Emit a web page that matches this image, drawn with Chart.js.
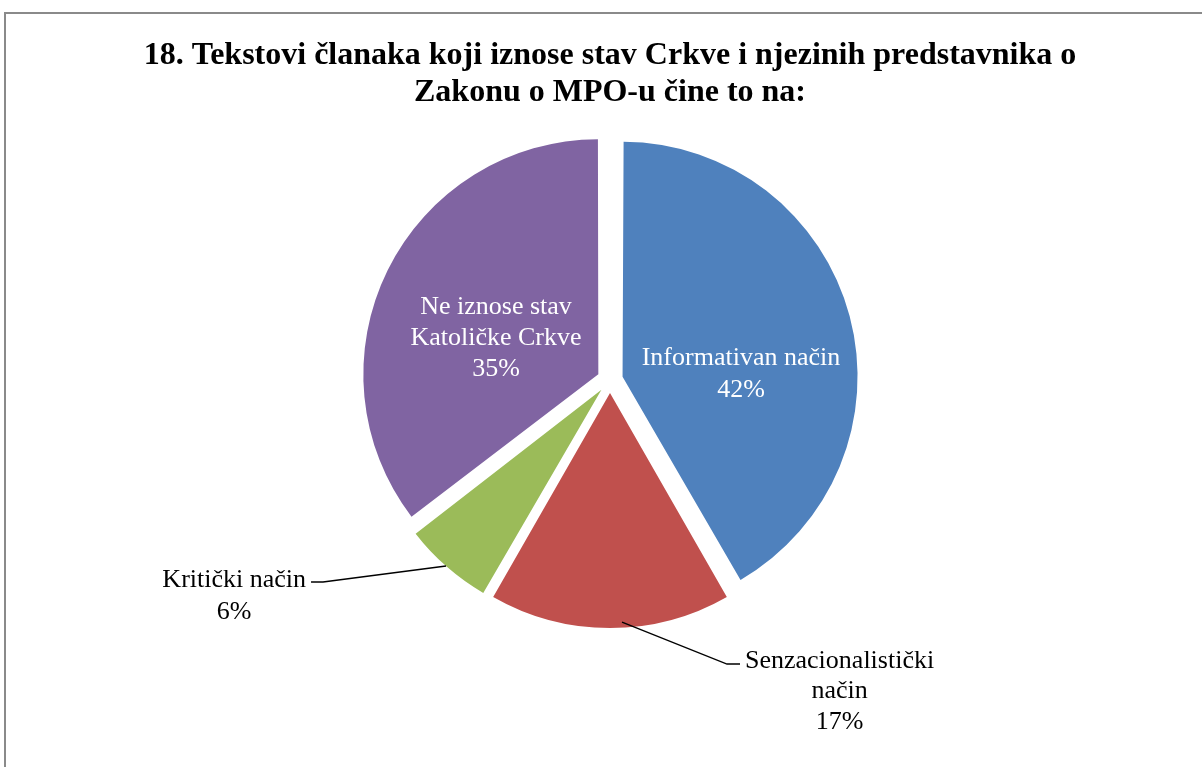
<!DOCTYPE html>
<html>
<head>
<meta charset="utf-8">
<script src="https://cdn.jsdelivr.net/npm/chart.js@4.4.0/dist/chart.umd.min.js"></script>
<style>
html, body { margin: 0; padding: 0; background: #fff; overflow: hidden; }
#frame { position: absolute; left: 4px; top: 12px; width: 1220px; height: 800px; border: 2px solid #8a8a8a; }
#wrap { position: absolute; left: 0; top: 0; width: 1202px; height: 767px; }
</style>
</head>
<body>
<div id="frame"></div>
<div id="wrap"><canvas id="pieChart" width="1202" height="767"></canvas></div>
<script>
var categories = [["Informativan način"], ["Senzacionalistički", "način"], ["Kritički način"], ["Ne iznose stav", "Katoličke Crkve"]];
var shares = [41.7, 16.6, 6.3, 35.4];
var sliceColors = ["#4F81BD", "#C0504D", "#9BBB59", "#8064A2"];
var titleLines = ["18. Tekstovi članaka koji iznose stav Crkve i njezinih predstavnika o", "Zakonu o MPO-u čine to na:"];

// where each label sits: angle in degrees clockwise from top, r as share of radius
var labelPlace = [
    { inside: true, angle: 88.7, r: 0.504, gap: 32 },
    { inside: false, angle: 177, r: 0.976, elbow: [105, 42], tail: 13, dy: -3, gap: 30.5 },
    { inside: false, angle: 221.4, r: 1.0, elbow: [-123, 16], tail: -12, dy: -2, gap: 32 },
    { inside: true, angle: 289.5, r: 0.462, gap: 31 }
];

// chart.js grows exploded arcs a bit (radius "fix"), undo it so all slices share one radius
var evenRadius = {
    id: "evenRadius",
    beforeDatasetsDraw: function (chart) {
        var meta = chart.getDatasetMeta(0);
        var baseR = meta.controller.outerRadius;
        meta.data.forEach(function (arc) {
            var shift = (arc.options.offset || 0) / 4;
            var fix = 1 - Math.sin(Math.min(Math.PI, arc.circumference || 0));
            arc.outerRadius = baseR - shift * fix;
        });
    }
};

var pieLabels = {
    id: "pieLabels",
    afterDatasetsDraw: function (chart) {
        var ctx = chart.ctx;
        var meta = chart.getDatasetMeta(0);
        var baseR = meta.controller.outerRadius;
        ctx.save();
        ctx.font = "26px 'Liberation Serif'";
        ctx.textBaseline = "middle";
        meta.data.forEach(function (arc, i) {
            var p = labelPlace[i];
            var mid = (arc.startAngle + arc.endAngle) / 2;
            var shift = (arc.options.offset || 0) / 4;
            var cx = arc.x + Math.cos(mid) * shift;
            var cy = arc.y + Math.sin(mid) * shift;
            var lines = categories[i].concat([Math.round(shares[i]) + "%"]);
            var a = (p.angle - 90) * Math.PI / 180;
            var ax = cx + Math.cos(a) * baseR * p.r;
            var ay = cy + Math.sin(a) * baseR * p.r;
            if (p.inside) {
                ctx.fillStyle = "#ffffff";
                ctx.textAlign = "center";
                var top = ay - (lines.length - 1) * p.gap / 2;
                lines.forEach(function (t, k) {
                    ctx.fillText(t, ax, top + k * p.gap);
                });
            } else {
                var ex = ax + p.elbow[0], ey = ay + p.elbow[1];
                var tx = ex + p.tail;
                ctx.strokeStyle = "#000000";
                ctx.lineWidth = 1.4;
                ctx.beginPath();
                ctx.moveTo(ax, ay);
                ctx.lineTo(ex, ey);
                ctx.lineTo(tx, ey);
                ctx.stroke();
                var w = 0;
                lines.forEach(function (t) { w = Math.max(w, ctx.measureText(t).width); });
                var midX = p.tail > 0 ? tx + 5 + w / 2 : tx - 5 - w / 2;
                ctx.fillStyle = "#000000";
                ctx.textAlign = "center";
                lines.forEach(function (t, k) {
                    ctx.fillText(t, midX, ey + p.dy + k * p.gap);
                });
            }
        });
        ctx.restore();
    }
};

var ctx1 = document.getElementById("pieChart").getContext("2d");

var PieChart = new Chart(ctx1,
    {
        type: "pie",
        data: {
            labels: categories,
            datasets: [
                {
                    data: shares,
                    backgroundColor: sliceColors,
                    borderWidth: 0,
                    offset: 52,
                    hoverOffset: 0
                }
            ]
        },
        options: {
            responsive: false,
            animation: false,
            radius: 235,
            layout: {
                padding: { left: 18, right: 0, top: 0, bottom: 137 }
            },
            plugins: {
                legend: { display: false },
                tooltip: { enabled: false },
                title: {
                    display: true,
                    text: titleLines,
                    color: "#000000",
                    font: { family: "'Liberation Serif'", size: 32, weight: "bold", lineHeight: "37px" },
                    padding: { top: 37, bottom: 19 }
                }
            }
        },
        plugins: [evenRadius, pieLabels]
    });
</script>
</body>
</html>
